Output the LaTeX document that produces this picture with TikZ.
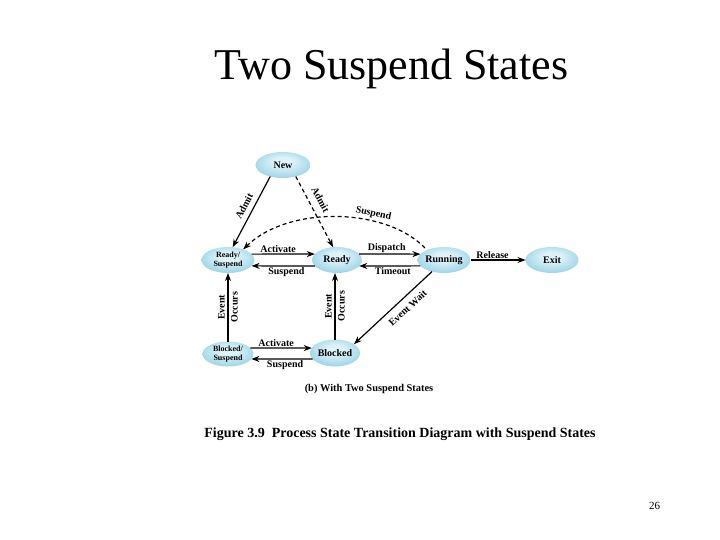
\documentclass[tikz,border=0pt]{standalone}
\usepackage{fontspec}
\setmainfont{Liberation Serif}
\usetikzlibrary{arrows.meta,shapes.geometric}
\definecolor{ellin}{RGB}{222,243,249}
\definecolor{ellout}{RGB}{88,180,211}
\pgfdeclareradialshading{ellshade}{\pgfpoint{0bp}{8bp}}{color(0bp)=(ellin); color(8bp)=(ellin); color(50bp)=(ellout)}
\tikzset{
  st/.style={ellipse, shade, shading=ellshade, minimum width=53pt, minimum height=26pt, inner sep=0pt, outer sep=0pt, font=\fontsize{10}{11}\selectfont\bfseries},
  st2/.style={st, align=center, font=\fontsize{8}{8.5}\selectfont\bfseries},
  arr/.style={line width=1.2pt, -{Stealth[length=8pt,width=6pt]}},
  rarr/.style={line width=1.2pt, {Stealth[length=8pt,width=6pt]}-},
  dsh/.style={dash pattern=on 4pt off 3pt},
  lbl/.style={font=\fontsize{10}{13}\selectfont\bfseries, inner sep=1pt},
}
\begin{document}
\begin{tikzpicture}[x=1pt,y=-1pt]
\useasboundingbox (0,0) rectangle (720,540);
\fill[white] (0,0) rectangle (720,540);
% title
\node[font=\fontsize{44}{50}\selectfont, anchor=base] (title) at (391.5,80) {Two Suspend States};
% states
\node[st, minimum width=55pt] (new) at (283,165) {New};
\node[st2] (rs) at (228,260) {Ready/\\Suspend};
\node[st, minimum width=50pt] (ready) at (337,260) {Ready};
\node[st] (run) at (444,260) {Running};
\node[st] (exit) at (552,260) {Exit};
\node[st2, minimum width=51pt, minimum height=25pt] (bs) at (228,354) {Blocked/\\Suspend};
\node[st, minimum width=50pt, minimum height=27pt] (blk) at (335,353) {Blocked};
% admit
\draw[rarr] (rs.70) -- node[lbl, sloped, above=4pt, pos=.52] {Admit} (new.222);
\draw[arr, dsh] (new.318) -- node[lbl, sloped, above=6pt, pos=.4] {Admit} (ready.107);
% suspend arc
\draw[rarr, dsh] (rs.35) .. controls (290,204) and (390,208) .. node[lbl, pos=.66, sloped, above=1pt] {Suspend} (run.150);
% horizontal top row
\draw[arr] (rs.14) -- node[lbl, above, pos=.42] {Activate} (ready.165);
\draw[arr] (ready.195) -- node[lbl, below, pos=.45] {Suspend} (rs.346);
\draw[arr] (ready.15) -- node[lbl, above, pos=.45] {Dispatch} (run.166);
\draw[arr] (run.194) -- node[lbl, below, pos=.45] {Timeout} (ready.345);
\draw[arr] (run) -- node[lbl, above, pos=.4] {Release} (exit);
% vertical
\draw[arr] (bs.north) -- node[lbl, rotate=90, align=center] {Event\\Occurs} (rs.south);
\draw[arr] (blk.north) -- node[lbl, rotate=90, align=center] {Event\\Occurs} (blk.north |- ready.south);
% bottom row
\draw[arr] (bs.15) -- node[lbl, above, pos=.42] {Activate} (blk.168);
\draw[arr] (blk.195) -- node[lbl, below, pos=.45] {Suspend} (bs.348);
% event wait
\draw[rarr] (blk.25) -- node[lbl, sloped, below=5pt, pos=.6] {Event Wait} (run.224);
% captions
\node[font=\fontsize{10.4}{12}\selectfont\bfseries] (cap1) at (369,389) {(b) With Two Suspend States};
\node[font=\fontsize{14}{16}\selectfont\bfseries] (cap2) at (400,434) {Figure 3.9\ \ Process State Transition Diagram with Suspend States};
\node[font=\fontsize{11}{13}\selectfont, anchor=base] (pg) at (654.5,509.5) {26};
\end{tikzpicture}
\end{document}
